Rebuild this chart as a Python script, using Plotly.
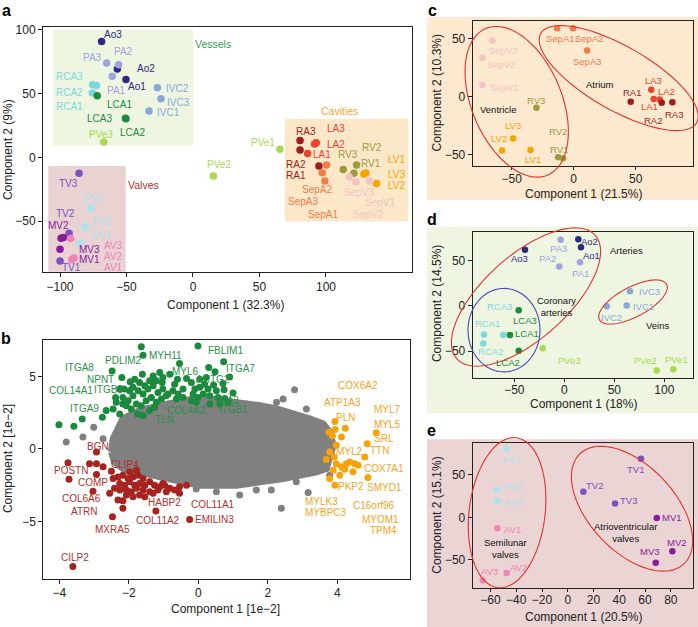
import numpy as np
import plotly.graph_objects as go

W, H = 698, 627
FONT = "Liberation Sans, Arial, Helvetica, sans-serif"
INK = "#222222"

# ---------------- colours per sample group ----------------
group_colors = {
    "Ao": "#2b2a80", "PA": "#a0a4de", "RCA": "#7dd8dd", "LCA": "#1c8b3b",
    "IVC": "#87a9d8", "PVe": "#a9d94f", "RA": "#9e1c1c", "LA": "#e8452c",
    "SepA": "#f27d45", "RV": "#9d9b3c", "LV": "#f6a400", "SepV": "#f3c3c3",
    "TV": "#7b50c2", "MV": "#8a1b99", "PV": "#aae2ef", "AV": "#f084b6",
}

# ---------------- panel a : all samples ----------------
a_samples = ["Ao1", "Ao2", "Ao3", "PA1", "PA2", "PA3", "RCA1", "RCA2", "RCA3",
             "LCA1", "LCA2", "LCA3", "IVC1", "IVC2", "IVC3", "PVe1", "PVe2", "PVe3",
             "RA1", "RA2", "RA3", "LA1", "LA2", "LA3", "SepA1", "SepA2", "SepA3",
             "RV1", "RV2", "RV3", "LV1", "LV2", "LV3", "SepV1", "SepV2", "SepV3",
             "TV1", "TV2", "TV3", "MV1", "MV2", "MV3", "PV1", "PV2", "PV3",
             "AV1", "AV2", "AV3"]
a_x = [-50.4, -56.9, -68.7, -60.7, -55.9, -64.9, -72.5, -75.7, -75.5,
       -72.0, -50.4, -50.8, -33.1, -26.8, -24.1, 65.4, 15.3, -67.1,
       94.7, 80.5, 80.5, 86.2, 92.7, 91.4, 99.2, 100.5, 97.2,
       123.0, 121.0, 113.0, 128.5, 138.0, 130.0, 133.0, 122.6, 117.5,
       -100.0, -93.2, -85.7, -97.5, -99.2, -100.0, -85.0, -81.2, -76.7,
       -89.5, -91.2, -92.0]
a_y = [61.0, 69.3, 90.9, 63.6, 72.7, 74.0, 56.3, 50.5, 57.0,
       48.4, 30.2, 30.6, 36.3, 54.5, 46.0, 6.3, -14.5, 12.0,
       -6.7, 5.8, 13.3, 3.1, 11.4, 10.6, -18.4, -5.9, -12.0,
       -5.9, -12.5, -9.4, -13.0, -20.5, -12.3, -18.4, -19.0, -15.3,
       -81.2, -59.4, -12.5, -62.7, -63.3, -72.0, -67.4, -54.4, -39.8,
       -78.9, -80.2, -63.5]

a_label_text = ["Ao3", "PA2", "PA3", "Ao2", "RCA3", "Ao1", "IVC2", "PA1", "RCA2",
                "IVC3", "RCA1", "LCA1", "IVC1", "LCA3", "LCA2", "PVe3", "PVe1", "PVe2",
                "RA3", "LA3", "LA2", "RV2", "LA1", "RV3", "RA2", "RV1", "LV1", "RA1",
                "LV3", "SepA2", "SepV3", "LV2", "SepA3", "SepV1", "SepA1", "SepV2",
                "TV3", "PV3", "TV2", "PV2", "MV2", "PV1", "AV3", "MV3", "AV2", "MV1",
                "TV1", "AV1"]
a_label_x = [-59.9, -51.9, -75.4, -35.3, -93.0, -42.3, -11.8, -57.9, -93.0,
             -11.0, -93.0, -55.6, -18.6, -70.5, -45.4, -69.4, 52.9, 19.8,
             84.7, 107.5, 107.5, 134.4, 96.7, 116.8, 77.2, 133.6, 153.1, 77.2,
             153.1, 93.0, 124.8, 153.1, 82.5, 140.6, 98.0, 131.8,
             -93.8, -75.0, -96.2, -68.2, -101.3, -68.7, -59.9, -78.0, -59.9, -78.0,
             -91.2, -59.9]
a_label_y = [96.0, 82.6, 77.9, 69.3, 63.6, 55.8, 53.9, 52.6, 50.5,
             43.3, 40.2, 41.4, 34.9, 30.2, 19.8, 18.0, 12.0, -5.5,
             20.6, 22.4, 9.9, 7.6, 1.9, 1.9, -5.9, -4.7, -2.0, -14.5,
             -13.3, -25.5, -27.6, -22.3, -34.8, -35.4, -44.5, -44.5,
             -20.3, -32.0, -43.7, -50.5, -53.1, -60.9, -68.8, -72.3, -77.6, -80.2,
             -86.2, -86.2]
a_groups = ["Vessels", "Cavities", "Valves"]
a_group_x = [15.3, 110.5, -37.4]
a_group_y = [89.1, 36.2, -21.6]
a_group_col = ["#3a9e55", "#f5a623", "#b53434"]
a_box_x0 = [-105.3, 69.2, -108.8]
a_box_x1 = [0.0, 162.0, -50.6]
a_box_y0 = [9.4, -50.2, -89.5]
a_box_y1 = [100.5, 30.2, -6.7]
a_box_col = ["#eef6e2", "#fce7c9", "#e9d2d2"]

# ---------------- panel b : protein loadings ----------------
b_cloud_x = [-2.50, -2.45, -2.17, -1.69, -1.11, -0.63, -0.15, 0.33, 0.81, 1.29, 1.77,
             2.25, 2.82, 3.20, 3.59, 3.78, 3.88, 3.78, 3.68, 3.40, 3.01, 2.44, 1.77,
             1.10, 0.52, 0.04, -0.44, -0.92, -1.30, -1.78, -2.17, -2.41]
b_cloud_y = [-0.21, 0.70, 2.07, 2.64, 2.98, 3.21, 3.44, 3.44, 3.32, 3.21, 2.98,
             2.75, 2.41, 2.07, 1.73, 1.16, 0.25, -0.66, -1.35, -1.57, -1.80, -2.03, -2.26,
             -2.49, -2.49, -2.49, -2.26, -2.03, -1.80, -1.57, -1.35, -0.89]
b_gray_x = [-3.01, -3.32, -3.80, -2.74, 2.77, 3.11, 2.25, 2.44, 1.38, 1.67, 1.86,
            -0.06, 0.52, 1.19, 1.67, 2.10, 2.39, 3.16, 2.82, 3.68, 3.78]
b_gray_y = [1.50, 0.82, 0.48, 0.70, 4.08, 2.75, 3.21, 3.44, 3.10, 2.53, 1.84,
            -2.76, -2.94, -3.17, -2.83, -2.83, -4.08, -2.99, -2.26, -1.35, -1.80]
b_green_x = [-1.64, -0.01, -1.59, 0.73, -0.54, -2.48, 0.30, 0.48, 0.90, -2.20, -0.34,
             -4.01, -3.58, -3.34, -2.76, -2.65, -2.45, -2.36, -2.14, -1.96, -1.61, -1.30,
             -1.11, -1.04, -0.82, -0.60, -0.44, -0.20, 0.04, 0.23, 0.52, 0.74, 1.00, 0.44,
             0.71, -2.17, -2.02, -1.88, -1.73, -1.59, -1.45, -1.30, -1.16, -1.02, -0.87,
             -0.73, -0.58, -0.44, -2.07, -1.93, -1.78, -1.64, -1.50, -1.35, -1.21, -1.06,
             -0.92, -0.63, -0.15, -0.01, 0.14, 0.28, 0.33, 0.57, 0.76, 0.86, -0.06, -0.20,
             -2.26, -1.59, -1.40, -1.26, -1.75, -1.88, -1.69, -1.40, -1.54, -1.21, -1.02,
             -0.68, 0.04, 0.18, -0.10, 0.33, 0.62, -2.38, -2.17, -1.98, -1.83, -2.26]
b_green_y = [7.04, 7.08, 6.45, 6.01, 5.88, 5.37, 5.60, 5.31, 4.96, 4.92, 4.85,
             1.66, 1.57, 2.07, 2.18, 2.64, 2.75, 3.21, 4.12, 4.62, 5.15, 5.03,
             5.26, 4.58, 5.15, 4.80, 4.12, 4.58, 4.24, 4.92, 4.01, 4.08, 3.85, 4.40,
             4.51, 3.55, 3.32, 3.67, 4.01, 3.78, 4.12, 4.35, 3.89, 4.12, 3.78,
             4.01, 3.78, 3.55, 2.98, 2.75, 3.10, 2.98, 3.32, 3.55, 3.21, 3.44,
             3.67, 3.44, 3.78, 3.55, 3.78, 4.12, 3.67, 3.55, 3.48, 3.21, 3.21, 3.32,
             2.41, 2.30, 2.64, 2.87, 2.41, 4.24, 4.58, 4.69, 4.35, 4.69, 4.92,
             4.46, 4.80, 4.46, 4.12, 3.10, 3.10, 3.55, 3.10, 4.01, 4.80, 4.12]
b_red_x = [-3.61, -2.47, -0.25, -1.22, -3.75, -3.72, -3.03, -2.50, -2.93, -3.13, -2.93,
           -2.74, -2.93, -2.17, -2.17, -2.31, -2.07, -0.54, -0.34,
           -2.45, -2.31, -2.17, -2.02, -1.88, -1.74, -1.59, -2.26, -2.12, -1.98, -1.83,
           -1.69, -1.54, -1.40, -1.26, -1.11, -0.97, -0.82, -0.68, -0.54, -2.41, -2.26,
           -2.07, -1.93, -1.78, -1.59, -1.40, -1.69, -1.54, -1.88, -2.55, -1.16, -1.30,
           -0.92, -1.98, -1.78, -1.02]
b_red_y = [-8.09, -4.67, -4.85, -4.26, -0.94, -2.08, -2.90, -1.53, -0.21, -1.01, -1.01,
           -1.23, -1.76, -3.56, -4.08, -3.51, -3.17, -3.05, -2.49,
           -2.03, -1.92, -1.80, -2.03, -1.92, -1.80, -2.03, -2.37, -2.49, -2.26, -2.49,
           -2.37, -2.49, -2.26, -2.49, -2.60, -2.49, -2.71, -2.83, -2.60, -2.71, -2.83,
           -2.83, -2.94, -2.71, -2.83, -2.94, -3.17, -3.28, -3.28, -3.05, -2.83, -3.05,
           -2.94, -1.57, -1.46, -2.37]
b_orange_x = [3.93, 3.94, 4.23, 3.76, 3.86, 4.12, 5.12, 4.86, 3.97, 3.78, 3.91, 3.68,
              3.97, 4.12, 4.26, 4.36, 4.50, 4.60, 4.79, 4.45, 4.21, 3.88, 4.07, 4.88,
              3.93, 3.78]
b_orange_y = [1.89, 1.34, 1.43, 1.16, 0.89, 0.82, 1.11, 0.36, 0.25, -0.21, -0.55, -0.73,
              -1.01, -1.23, -1.01, -0.89, -1.01, -1.12, -0.55, -1.57, -1.39, -1.46, -1.80,
              -1.96, -2.49, -2.03]
b_green_lab = ["FBLIM1", "MYH11", "PDLIM2", "ITGA8", "ITGA7", "MYL6", "NPNT", "ACTG2",
               "COL14A1", "ITGB3", "ITGA3", "ITGA9", "COL4A2", "ITGB1", "TLN"]
b_green_lab_x = [0.79, -0.94, -2.14, -3.41, 1.21, -0.37, -2.82, 0.42, -3.65, -2.58,
                 0.76, -3.27, -0.34, 1.00, -0.98]
b_green_lab_y = [6.81, 6.40, 6.06, 5.60, 5.56, 5.31, 4.80, 4.76, 4.01, 4.12,
                 3.32, 2.80, 2.64, 2.69, 2.03]
b_red_lab = ["BGN", "CLIP4", "POSTN", "COMP", "COL6A6", "HABP2", "COL11A1", "ATRN",
             "COL11A2", "EMILIN3", "MXRA5", "CILP2"]
b_red_lab_x = [-2.89, -2.12, -3.65, -3.03, -3.37, -0.97, 0.42, -3.29, -1.16, 0.47, -2.47, -3.56]
b_red_lab_y = [0.20, -1.05, -1.46, -2.33, -3.44, -3.67, -3.81, -4.31, -4.95, -4.88, -5.56, -7.45]
b_orange_lab = ["COX6A2", "ATP1A3", "MYL7", "PLN", "MYL5", "SRL", "MYL2", "TTN", "COX7A1",
                "PKP2", "SMYD1", "MYLK3", "C16orf96", "MYBPC3", "MYOM1", "TPM4"]
b_orange_lab_x = [4.60, 4.14, 5.44, 4.24, 5.44, 5.34, 4.34, 5.22, 5.34, 4.40, 5.36,
                  3.54, 5.06, 3.67, 5.25, 5.34]
b_orange_lab_y = [4.40, 3.21, 2.69, 2.14, 1.66, 0.70, -0.14, -0.09, -1.35, -2.60, -2.67,
                  -3.58, -3.92, -4.35, -4.88, -5.63]

# ---------------- panel c : cavities ----------------
c_samples = ["SepA1", "SepA2", "SepA3", "SepV3", "SepV2", "SepV1", "RV3", "LV3", "LV2",
             "LV1", "RV2", "RV1", "LA3", "RA1", "LA1", "LA2", "RA2", "RA3"]
c_x = [-13.4, -0.5, 10.8, -65.6, -73.6, -73.6, -30.1, -48.9, -57.8,
       -34.9, -12.6, -8.6, 62.6, 46.0, 64.5, 69.4, 71.0, 79.6]
c_y = [59.0, 59.0, 39.8, 48.3, 33.5, 10.0, -9.5, -35.9, -46.3,
       -46.0, -52.2, -53.1, 6.0, -4.4, -1.9, -2.5, -5.3, -4.7]
c_lab_dx = [3, 16, 0, 11, 19, 22, 0, 0, -3, 3, 0, -4, 2, 1, -4, 7, -9, 2]
c_lab_dy = [10, 10, 11, 10, 7, 2, -7, -13, -12, 9, -26, -9, -9, -9, 8, -8, 18, 12]
c_groups = ["Ventricle", "Atrium"]
c_group_x = [-61.0, 21.0]
c_group_y = [-11.2, 10.3]

# ---------------- panel d : vessels ----------------
d_samples = ["Ao2", "Ao1", "PA3", "Ao3", "PA1", "PA2", "IVC3", "IVC2", "IVC1", "LCA3",
             "RCA1", "RCA3", "LCA1", "RCA2", "LCA2", "PVe3", "PVe2", "PVe1"]
d_x = [14.0, 16.7, -3.6, -39.3, 15.7, -5.0, 65.7, 42.4, 62.4, -45.6,
       -80.3, -61.0, -54.3, -81.0, -45.6, -21.6, 92.4, 109.0]
d_y = [74.0, 65.0, 73.4, 62.4, 48.5, 43.7, 16.2, -0.4, 0.4, -4.8,
       -31.6, -32.3, -32.3, -41.5, -49.6, -47.0, -71.6, -70.2]
d_lab_dx = [11, 10, -2, -6, 0, -12, 19, 5, 17, 6, 3, -4, 17, 7, -11, 27, -11, 3]
d_lab_dy = [2, 8, 9, 9, 11, -8, 0, 11, 1, 10, -11, -29, -2, 8, 12, 12, -10, -10]
d_groups = ["Arteries", "Coronary<br>arteries", "Veins"]
d_group_x = [62.4, -8.3, 93.4]
d_group_y = [61.3, -0.8, -21.3]

# ---------------- panel e : valves ----------------
e_samples = ["PV1", "PV2", "PV3", "AV1", "AV2", "AV3", "TV1", "TV2", "TV3", "MV1", "MV2", "MV3"]
e_x = [-47.4, -55.1, -55.1, -54.7, -47.4, -66.0, 56.9, 12.1, 36.7, 69.1, 81.2, 68.3]
e_y = [81.4, 32.5, 19.6, -12.9, -65.6, -74.2, 69.2, 30.1, 16.4, -0.7, -39.9, -53.5]
e_lab_dx = [5, 16, 17, 15, 12, 7, -6, 11, 13, 15, 5, -6]
e_lab_dy = [11, -3, 2, 1, -5, -9, 11, -6, -3, 0, -9, -11]
e_groups = ["Semilunar<br>valves", "Atrioventricular<br>valves"]
e_group_x = [-48.7, 45.0]
e_group_y = [-37.3, -18.2]

# ---------------- geometry of panels (pixels) ----------------
P = {
    "a": dict(xd=(43, 412), yd=(23, 270), xr=(-112.8, 164.7), yr=(-90, 102.3), n="", big=True),
    "b": dict(xd=(43.3, 410.3), yd=(338.3, 578.3), xr=(-4.46, 6.1), yr=(-8.92, 7.49), n="2", big=True),
    "c": dict(xd=(472.7, 692.7), yd=(17.3, 163.3), xr=(-81.5, 96), yr=(-59.9, 65), n="3", big=False),
    "d": dict(xd=(472.7, 692.7), yd=(229, 376), xr=(-91.6, 128.4), yr=(-79.4, 82.5), n="4", big=False),
    "e": dict(xd=(472.7, 692.7), yd=(442.3, 587.7), xr=(-73.8, 97), yr=(-83.3, 87.2), n="5", big=False),
}
ticks = {
    "a": ([-100, -50, 0, 50, 100], [-50, 0, 50, 100]),
    "b": ([-4, -2, 0, 2, 4], [-5, 0, 5]),
    "c": ([-50, 0, 50], [-50, 0, 50]),
    "d": ([-50, 0, 50, 100], [-50, 0, 50]),
    "e": ([-60, -40, -20, 0, 20, 40, 60, 80], [-50, 0, 50]),
}

fig = go.Figure()
layout = dict(width=W, height=H, margin=dict(l=0, r=0, t=0, b=0),
              paper_bgcolor="white", plot_bgcolor="rgba(0,0,0,0)",
              showlegend=False, font=dict(family=FONT, color=INK))
for k, p in P.items():
    n = p["n"]
    xt, yt = ticks[k]
    common = dict(showline=True, mirror=True, linecolor=INK, linewidth=1,
                  ticks="outside", tickcolor=INK, showgrid=False,
                  zeroline=False, tickfont=dict(size=12, family=FONT, color=INK))
    if p["big"]:
        xextra = dict(ticklen=4, ticklabelstandoff=-1)
    else:
        xextra = dict(ticklen=3, ticklabelstandoff=-2)
    layout["xaxis" + n] = dict(domain=[p["xd"][0] / W, p["xd"][1] / W], range=list(p["xr"]),
                               anchor="y" + n, tickvals=xt, **xextra, **common)
    layout["yaxis" + n] = dict(domain=[1 - p["yd"][1] / H, 1 - p["yd"][0] / H], range=list(p["yr"]),
                               anchor="x" + n, tickvals=yt, ticklen=4, **common)


def refs(k):
    n = P[k]["n"]
    return "x" + n, "y" + n


def to_paper(k, x, y):
    p = P[k]
    kx = (p["xd"][1] - p["xd"][0]) / (p["xr"][1] - p["xr"][0])
    ky = (p["yd"][1] - p["yd"][0]) / (p["yr"][1] - p["yr"][0])
    px = p["xd"][0] + (np.asarray(x) - p["xr"][0]) * kx
    py = p["yd"][1] - (np.asarray(y) - p["yr"][0]) * ky
    return px / W, 1 - py / H


def ell_path(k, cx, cy, a, b, ang):
    p = P[k]
    kx = (p["xd"][1] - p["xd"][0]) / (p["xr"][1] - p["xr"][0])
    ky = (p["yd"][1] - p["yd"][0]) / (p["yr"][1] - p["yr"][0])
    t = np.linspace(0, 2 * np.pi, 90)
    phi = np.deg2rad(ang)
    dx = a * np.cos(t) * np.cos(phi) - b * np.sin(t) * np.sin(phi)
    dy = a * np.cos(t) * np.sin(phi) + b * np.sin(t) * np.cos(phi)
    X, Y = to_paper(k, cx + dx / kx, cy + dy / ky)
    return "M " + " L ".join(f"{u:.5f},{v:.5f}" for u, v in zip(X, Y)) + " Z"


shapes = []
annotations = []


def ann_px(text, x, y, size=12, angle=0, bold=False, color=INK):
    annotations.append(dict(text=f"<b>{text}</b>" if bold else text, x=x / W, y=1 - y / H,
                            xref="paper", yref="paper", showarrow=False, textangle=angle,
                            xanchor="center", yanchor="middle",
                            font=dict(size=size, family=FONT, color=color)))


# panel backgrounds for c, d, e
for y0, y1, col in [(13, 197, "#fce9cf"), (224, 412, "#eef6e2"), (438, 627, "#ead4d4")]:
    shapes.append(dict(type="rect", xref="paper", yref="paper", x0=427 / W, x1=1,
                       y0=1 - y1 / H, y1=1 - y0 / H, fillcolor=col, line=dict(width=0), layer="below"))

# ---- panel a ----
xa, ya = refs("a")
for i in range(3):
    shapes.append(dict(type="rect", xref=xa, yref=ya, x0=a_box_x0[i], x1=a_box_x1[i],
                       y0=a_box_y0[i], y1=a_box_y1[i], fillcolor=a_box_col[i],
                       line=dict(width=0), layer="below"))
a_cols = [group_colors[s.rstrip("0123456789")] for s in a_samples]
fig.add_trace(go.Scatter(x=a_x, y=a_y, mode="markers", xaxis=xa, yaxis=ya,
                         marker=dict(size=7.5, color=a_cols, line=dict(width=0)),
                         text=a_samples, hoverinfo="text"))
for t, x, y in zip(a_label_text, a_label_x, a_label_y):
    annotations.append(dict(text=t, x=x, y=y, xref=xa, yref=ya, showarrow=False,
                            font=dict(size=10, family=FONT,
                                      color=group_colors[t.rstrip("0123456789")])))
for t, x, y, c in zip(a_groups, a_group_x, a_group_y, a_group_col):
    annotations.append(dict(text=t, x=x, y=y, xref=xa, yref=ya, showarrow=False,
                            font=dict(size=10.5, family=FONT, color=c)))

# ---- panel b ----
xb, yb = refs("b")
GRAY = "#808080"
fig.add_trace(go.Scatter(x=b_cloud_x + b_cloud_x[:1], y=b_cloud_y + b_cloud_y[:1], mode="lines",
                         fill="toself", fillcolor=GRAY, line=dict(color=GRAY, width=7),
                         xaxis=xb, yaxis=yb, hoverinfo="skip"))
fig.add_trace(go.Scatter(x=b_gray_x, y=b_gray_y, mode="markers", xaxis=xb, yaxis=yb,
                         marker=dict(size=7, color=GRAY, line=dict(width=0))))
for xs, ys, col in [(b_green_x, b_green_y, "#1b8a3c"), (b_red_x, b_red_y, "#a6231f"),
                    (b_orange_x, b_orange_y, "#f6a30c")]:
    fig.add_trace(go.Scatter(x=xs, y=ys, mode="markers", xaxis=xb, yaxis=yb,
                             marker=dict(size=7, color=col, line=dict(width=0))))
for labs, lx, ly, col in [(b_green_lab, b_green_lab_x, b_green_lab_y, "#2a9048"),
                          (b_red_lab, b_red_lab_x, b_red_lab_y, "#b0302b"),
                          (b_orange_lab, b_orange_lab_x, b_orange_lab_y, "#f5a31a")]:
    for t, x, y in zip(labs, lx, ly):
        annotations.append(dict(text=t, x=x, y=y, xref=xb, yref=yb, showarrow=False,
                                font=dict(size=10, family=FONT, color=col)))


# ---- panels c, d, e ----
def small_panel(k, names, xs, ys, dxs, dys, gnames, gx, gy):
    xr_, yr_ = refs(k)
    cols = [group_colors[s.rstrip("0123456789")] for s in names]
    fig.add_trace(go.Scatter(x=xs, y=ys, mode="markers", xaxis=xr_, yaxis=yr_,
                             marker=dict(size=6.5, color=cols, line=dict(width=0)),
                             text=names, hoverinfo="text"))
    for t, x, y, dx, dy, c in zip(names, xs, ys, dxs, dys, cols):
        annotations.append(dict(text=t, x=x, y=y, xref=xr_, yref=yr_, showarrow=False,
                                xshift=dx, yshift=-dy, font=dict(size=9.5, family=FONT, color=c)))
    for t, x, y in zip(gnames, gx, gy):
        annotations.append(dict(text=t, x=x, y=y, xref=xr_, yref=yr_, showarrow=False,
                                font=dict(size=9.5, family=FONT, color="#111111")))


small_panel("c", c_samples, c_x, c_y, c_lab_dx, c_lab_dy, c_groups, c_group_x, c_group_y)
small_panel("d", d_samples, d_x, d_y, d_lab_dx, d_lab_dy, d_groups, d_group_x, d_group_y)
small_panel("e", e_samples, e_x, e_y, e_lab_dx, e_lab_dy, e_groups, e_group_x, e_group_y)

RED = "#e2342c"
BLUE = "#4a45b8"
for k, cx, cy, a, b, ang, col in [
    ("c", -46.0, -4.4, 80, 45, -67.4, RED), ("c", 36.3, 16.0, 90, 32, -30, RED),
    ("d", -38.3, 9.9, 93, 42, 42, RED), ("d", -60.3, -26.8, 36, 42, 0, BLUE),
    ("d", 68.7, 4.4, 38, 15, 28, RED),
    ("e", -47.1, 5.5, 76, 38, 83, RED), ("e", 49.9, 10.2, 76, 43, -47, RED)]:
    shapes.append(dict(type="path", xref="paper", yref="paper", path=ell_path(k, cx, cy, a, b, ang),
                       line=dict(color=col, width=1.1), fillcolor="rgba(0,0,0,0)", layer="above"))

# ---- axis titles and panel letters ----
ann_px("Component 1 (32.3%)", 225, 303)
ann_px("Component 2 (9%)", 8, 147, angle=-90)
ann_px("Component 1 [1e\u22122]", 225, 609)
ann_px("Component 2 [1e\u22122]", 8, 458, angle=-90)
ann_px("Component 1 (21.5%)", 583, 191)
ann_px("Component 2 (10.3%)", 437, 90, angle=-90)
ann_px("Component 1 (18%)", 583, 403)
ann_px("Component 2 (14.5%)", 437, 302, angle=-90)
ann_px("Component 1 (20.5%)", 583, 617)
ann_px("Component 2 (15.1%)", 437, 515, angle=-90)
for t, x, y in [("a", 6, 7), ("b", 6, 337), ("c", 432, 7), ("d", 432, 217), ("e", 431, 429)]:
    ann_px(t, x, y, size=16, bold=True, color="#000000")

layout["shapes"] = shapes
layout["annotations"] = annotations
fig.update_layout(**layout)
fig.write_html("out.html", config={"displayModeBar": False},
               post_script="document.body.style.margin='0';document.body.style.overflow='hidden';")
